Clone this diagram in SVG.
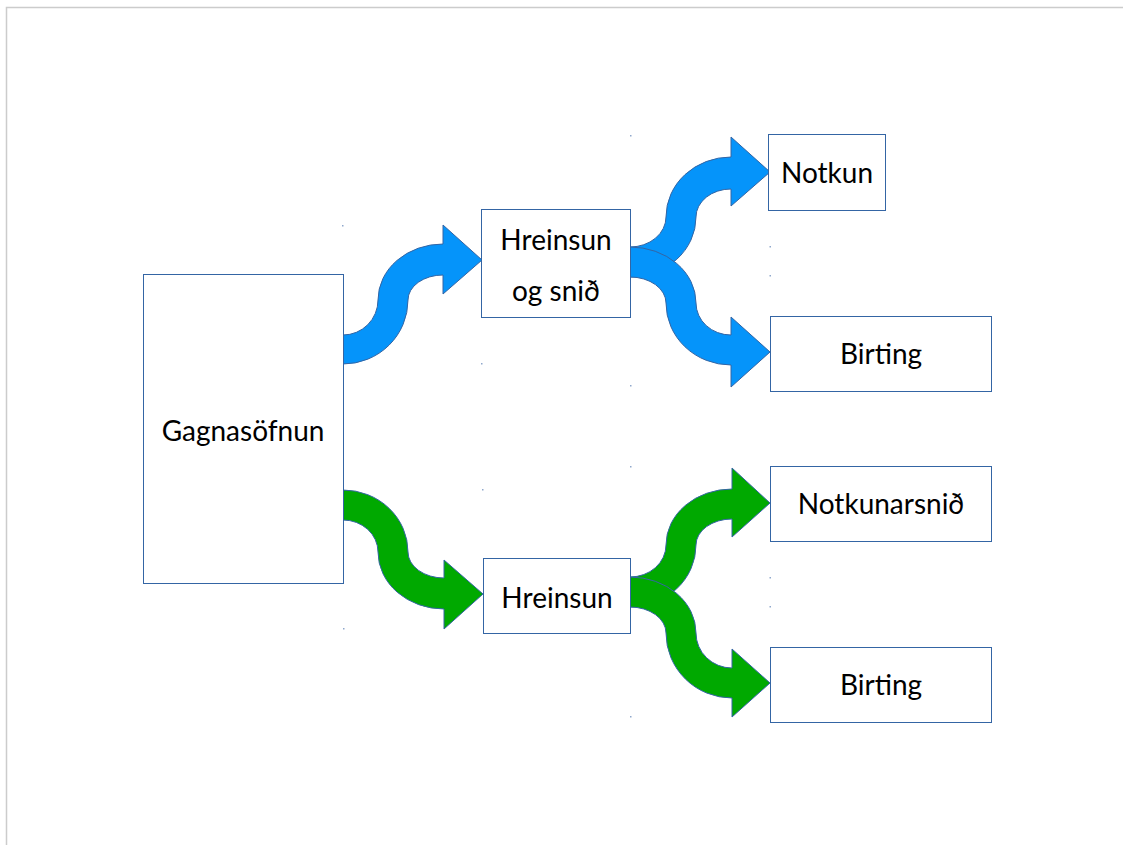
<svg xmlns="http://www.w3.org/2000/svg" width="1123" height="845" viewBox="0 0 1123 845">
<style>
.box{fill:#ffffff;stroke:#3465a4;stroke-width:1}
.lbl{font-family:Lato,"Liberation Sans",sans-serif;font-size:28px;fill:#000000;text-anchor:middle}
.blue{fill:#0594fa;stroke:#3465a4;stroke-width:1}
.green{fill:#00a900;stroke:#3465a4;stroke-width:1}
.dot{fill:#8fa8cc}
</style>
<rect x="0" y="0" width="1123" height="845" fill="#ffffff"/>
<path d="M6.5,845 L6.5,7.5 L1123,7.5" fill="none" stroke="#cccccc" stroke-width="1.5"/>
<g id="markers">
<rect class="dot" x="342" y="225" width="1.5" height="1.5"/>
<rect class="dot" x="481" y="363" width="1.5" height="1.5"/>
<rect class="dot" x="630" y="135" width="1.5" height="1.5"/>
<rect class="dot" x="769.5" y="246" width="1.5" height="1.5"/>
<rect class="dot" x="769.5" y="275" width="1.5" height="1.5"/>
<rect class="dot" x="630" y="385" width="1.5" height="1.5"/>
<rect class="dot" x="482" y="489" width="1.5" height="1.5"/>
<rect class="dot" x="343" y="628" width="1.5" height="1.5"/>
<rect class="dot" x="630" y="466" width="1.5" height="1.5"/>
<rect class="dot" x="769.5" y="577" width="1.5" height="1.5"/>
<rect class="dot" x="769.5" y="606" width="1.5" height="1.5"/>
<rect class="dot" x="630" y="716" width="1.5" height="1.5"/>
</g>
<g id="connectors">
<path class="blue" d="M343,364 A65,64 0 0 0 408,300 A35,25 0 0 1 443,275 L443,294 L482,260 L443,225 L443,244 A65,56 0 0 0 378,300 A35,35 0 0 1 343,335 Z"/>
<path class="blue" d="M630,277 A66,60 0 0 0 696,217 A35,28 0 0 1 731,189 L731,206 L770,172 L731,137 L731,157 A65,60 0 0 0 666,217 A36,30 0 0 1 630,247 Z"/>
<path class="blue" d="M630,247 A66,56 0 0 1 696,303 A35,32 0 0 0 731,335 L731,317 L770,352 L731,387 L731,365 A65,62 0 0 1 666,303 A36,26 0 0 0 630,277 Z"/>
<path class="green" d="M343,490 A65,62 0 0 1 408,552 A36,26 0 0 0 444,578 L444,560 L483,594 L444,629 L444,609 A66,57 0 0 1 378,552 A35,32 0 0 0 343,520 Z"/>
<path class="green" d="M630,607 A66,62 0 0 0 696,545 A36,26 0 0 1 732,519 L732,537 L770,503 L732,468 L732,489 A66,56 0 0 0 666,545 A36,32 0 0 1 630,577 Z"/>
<path class="green" d="M630,577 A66,56 0 0 1 696,633 A36,35 0 0 0 732,668 L732,649 L770,683 L732,717 L732,698 A66,65 0 0 1 666,633 A36,26 0 0 0 630,607 Z"/>
</g>
<g id="gagnasofnun">
<rect class="box" x="143.5" y="274.5" width="200" height="309"/>
<text class="lbl" x="243" y="441">Gagnasöfnun</text>
</g>
<g id="hreinsun-og-snid">
<rect class="box" x="481.5" y="209.5" width="149" height="108"/>
<text class="lbl" x="556" y="250">Hreinsun</text>
<text class="lbl" x="556" y="301">og snið</text>
</g>
<g id="notkun">
<rect class="box" x="768.5" y="134.5" width="117" height="76"/>
<text class="lbl" x="827" y="183">Notkun</text>
</g>
<g id="birting1">
<rect class="box" x="770.5" y="316.5" width="221" height="75"/>
<text class="lbl" x="881" y="364">Birting</text>
</g>
<g id="notkunarsnid">
<rect class="box" x="770.5" y="466.5" width="221" height="75"/>
<text class="lbl" x="881" y="514">Notkunarsnið</text>
</g>
<g id="hreinsun">
<rect class="box" x="483.5" y="558.5" width="147" height="75"/>
<text class="lbl" x="557" y="608">Hreinsun</text>
</g>
<g id="birting2">
<rect class="box" x="770.5" y="647.5" width="221" height="75"/>
<text class="lbl" x="881" y="695">Birting</text>
</g>
</svg>
